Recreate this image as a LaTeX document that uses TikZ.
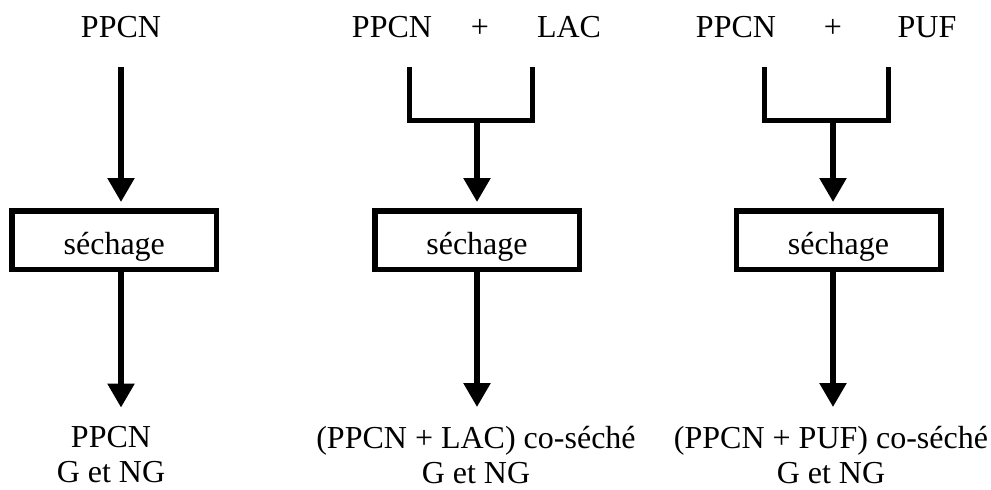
\documentclass[tikz,border=0pt]{standalone}
\usepackage{fontspec}
\setmainfont{Liberation Serif}
\usetikzlibrary{positioning, arrows.meta, calc}

\begin{document}
\begin{tikzpicture}[
	x=1pt, y=-1pt,
	font=\fontsize{32}{35}\selectfont,
	% Define styles for the blocks
	dry_block/.style={
		draw=black,
		line width=5.5pt,
		minimum height=58.5pt,
		minimum width=204.5pt,
		inner sep=0pt,
		text height=28pt,
		text depth=0pt,
		align=center
	},
	name_text/.style={
		inner sep=0pt,
		align=center
	},
	flow/.style={
		line width=5.5pt,
		-{Triangle[width=26pt, length=24pt]}
	},
	join_line/.style={
		line width=5pt,
		line join=miter
	}
	]
	\useasboundingbox (0,0) rectangle (991,490);
	
	% --- 1. PPCN ALONE ---
	\node[name_text, anchor=base] (ppcn_a) at (121,37) {PPCN};
	\node[dry_block] (dry_a) at (114.3,240) {séchage};
	\node[name_text] (out_a) at (111,455) {PPCN\\G et NG};
	\draw[flow, shorten <=30pt, shorten >=6pt] (ppcn_a.base) -- (ppcn_a.base |- dry_a.north);
	\draw[flow, shorten >=19pt] (ppcn_a |- dry_a.south) -- (ppcn_a |- out_a.north);
	
	% --- 2. PPCN + LAC ---
	\node[name_text, anchor=base] (ppcn_b) at (392,37) {PPCN};
	\node[name_text, anchor=base] (plus_b) at (480,37) {+};
	\node[name_text, anchor=base] (lac_b) at (569,37) {LAC};
	\coordinate (join_b) at (477,120);
	\draw[join_line] (409,67) |- (532,120) -- (532,67);
	\node[dry_block] (dry_b) at (477,240) {séchage};
	\node[name_text] (out_b) at (476,455) {(PPCN + LAC) co-séché\\G et NG};
	\draw[flow, shorten >=6pt] (join_b) -- (dry_b.north);
	\draw[flow, shorten >=19pt] (dry_b.south) -- (dry_b.south |- out_b.north);
	
	% --- 3. PPCN + PUF ---
	\node[name_text, anchor=base] (ppcn_c) at (736,37) {PPCN};
	\node[name_text, anchor=base] (plus_c) at (833,37) {+};
	\node[name_text, anchor=base] (puf_c) at (927,37) {PUF};
	\coordinate (join_c) at (833,120);
	\draw[join_line] (764,67) |- (888,120) -- (888,67);
	\node[dry_block] (dry_c) at (838.5,240) {séchage};
	\node[name_text] (out_c) at (831,455) {(PPCN + PUF) co-séché\\G et NG};
	\draw[flow, shorten >=6pt] (join_c) -- (join_c |- dry_c.north);
	\draw[flow, shorten >=19pt] (join_c |- dry_c.south) -- (join_c |- out_c.north);
	
\end{tikzpicture}
\end{document}
